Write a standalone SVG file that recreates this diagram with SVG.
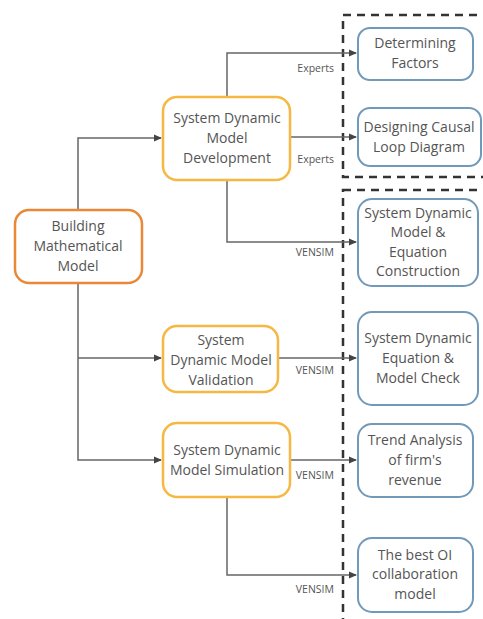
<svg xmlns="http://www.w3.org/2000/svg" width="483" height="619" viewBox="0 0 483 619">
<style>
text{font-family:"Open Sans","Noto Sans","Liberation Sans",sans-serif;fill:#555;text-anchor:middle}
.t{font-size:14px}
.l{font-size:10.5px;text-anchor:end}
.org{fill:#fff;stroke:#e8893a;stroke-width:2.5}
.yel{fill:#fff;stroke:#f6b843;stroke-width:2.5}
.blu{fill:#fff;stroke:#7199b9;stroke-width:2}
.c{fill:none;stroke:#666;stroke-width:1.5}
.d{fill:none;stroke:#333;stroke-width:2.5;stroke-dasharray:8 6}
</style>
<defs>
<marker id="a" markerWidth="8" markerHeight="8" refX="7" refY="4" orient="auto" markerUnits="userSpaceOnUse">
<path d="M0,0.5 L8,4 L0,7.5 Z" fill="#444"/>
</marker>
</defs>
<g id="frames">
<rect class="d" x="343" y="15" width="160" height="162"/>
<rect class="d" x="343" y="190" width="160" height="450"/>
</g>
<g id="connectors">
<path class="c" d="M78,210 V138 H161" marker-end="url(#a)"/>
<path class="c" d="M78,283 V460 H161" marker-end="url(#a)"/>
<path class="c" d="M78,358 H161" marker-end="url(#a)"/>
<path class="c" d="M227,97 V53 H356" marker-end="url(#a)"/>
<path class="c" d="M290,137 H356" marker-end="url(#a)"/>
<path class="c" d="M227,180 V242 H356" marker-end="url(#a)"/>
<path class="c" d="M278,358 H356" marker-end="url(#a)"/>
<path class="c" d="M290,460 H356" marker-end="url(#a)"/>
<path class="c" d="M227,497 V575 H356" marker-end="url(#a)"/>
<text class="l" x="334" y="72">Experts</text>
<text class="l" x="334" y="163">Experts</text>
<text class="l" x="334" y="256">VENSIM</text>
<text class="l" x="334" y="374">VENSIM</text>
<text class="l" x="334" y="479">VENSIM</text>
<text class="l" x="334" y="593">VENSIM</text>
</g>
<g id="building">
<rect class="org" x="15" y="210" width="127" height="73" rx="14"/>
<text class="t" x="78" y="231">Building</text>
<text class="t" x="78" y="251">Mathematical</text>
<text class="t" x="78" y="271">Model</text>
</g>
<g id="sdmd">
<rect class="yel" x="163" y="97" width="127" height="83" rx="14"/>
<text class="t" x="227" y="123">System Dynamic</text>
<text class="t" x="227" y="143">Model</text>
<text class="t" x="227" y="163">Development</text>
</g>
<g id="sdmv">
<rect class="yel" x="163" y="326" width="115" height="66" rx="14"/>
<text class="t" x="221" y="345">System</text>
<text class="t" x="221" y="365">Dynamic Model</text>
<text class="t" x="221" y="385">Validation</text>
</g>
<g id="sdms">
<rect class="yel" x="163" y="423" width="127" height="74" rx="14"/>
<text class="t" x="227" y="455">System Dynamic</text>
<text class="t" x="227" y="475">Model Simulation</text>
</g>
<g id="factors">
<rect class="blu" x="358" y="28" width="115" height="52" rx="12"/>
<text class="t" x="415" y="48">Determining</text>
<text class="t" x="415" y="68">Factors</text>
</g>
<g id="cld">
<rect class="blu" x="358" y="108" width="123" height="58" rx="12"/>
<text class="t" x="419" y="132">Designing Causal</text>
<text class="t" x="419" y="152">Loop Diagram</text>
</g>
<g id="construct">
<rect class="blu" x="358" y="199" width="120" height="87" rx="14"/>
<text class="t" x="418" y="218">System Dynamic</text>
<text class="t" x="418" y="237">Model &amp;</text>
<text class="t" x="418" y="257">Equation</text>
<text class="t" x="418" y="276">Construction</text>
</g>
<g id="check">
<rect class="blu" x="358" y="312" width="120" height="93" rx="14"/>
<text class="t" x="418" y="343">System Dynamic</text>
<text class="t" x="418" y="363">Equation &amp;</text>
<text class="t" x="418" y="383">Model Check</text>
</g>
<g id="trend">
<rect class="blu" x="358" y="424" width="115" height="73" rx="14"/>
<text class="t" x="415" y="445">Trend Analysis</text>
<text class="t" x="415" y="465">of firm's</text>
<text class="t" x="415" y="485">revenue</text>
</g>
<g id="best">
<rect class="blu" x="358" y="538" width="115" height="74" rx="14"/>
<text class="t" x="415" y="560">The best OI</text>
<text class="t" x="415" y="579">collaboration</text>
<text class="t" x="415" y="599">model</text>
</g>
</svg>
